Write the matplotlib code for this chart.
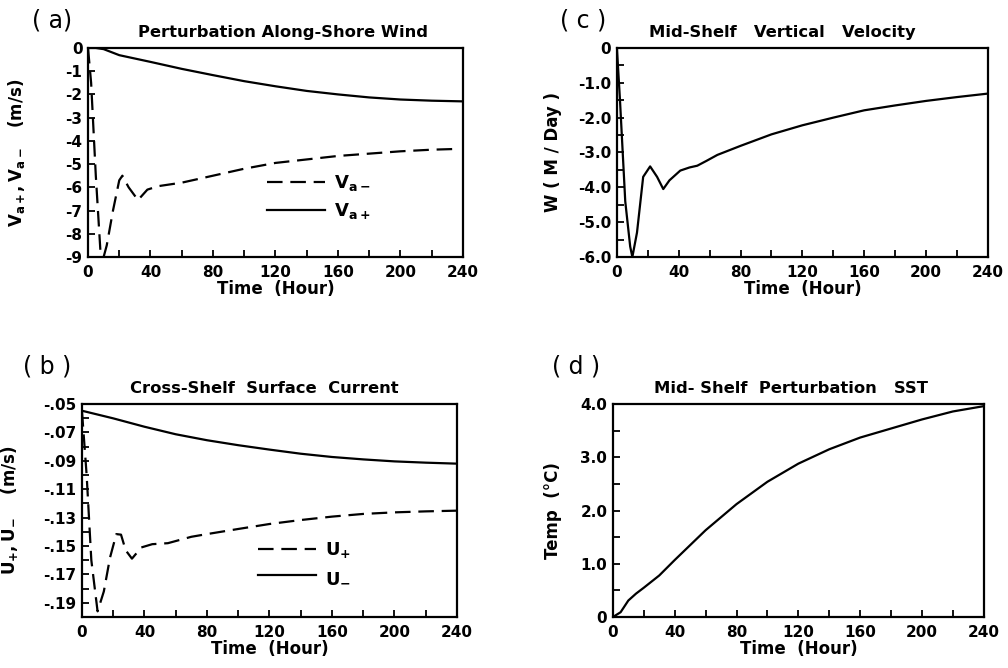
import matplotlib
matplotlib.use('Agg')
import matplotlib.pyplot as plt
from matplotlib.ticker import MultipleLocator

plt.rcParams['font.family'] = ['DejaVu Sans']
plt.rcParams['font.weight'] = 'bold'
plt.rcParams['mathtext.default'] = 'bf'
plt.rcParams['axes.unicode_minus'] = False

# (a) perturbation along-shore wind (m/s)
t_va_minus = [0, 2, 5, 8, 10, 12, 16, 20, 22, 26, 32, 38, 45, 60, 80, 100,
              120, 140, 160, 180, 200, 220, 235]
va_minus = [0, -1.5, -5.5, -8.8, -9.0, -8.5, -7.0, -5.7, -5.5, -6.0, -6.55,
            -6.1, -5.95, -5.8, -5.5, -5.2, -4.95, -4.8, -4.65, -4.55, -4.45,
            -4.38, -4.35]
t_va_plus = [0, 5, 10, 20, 40, 60, 80, 100, 120, 140, 160, 180, 200, 220, 240]
va_plus = [0, 0, -0.05, -0.31, -0.6, -0.9, -1.17, -1.43, -1.65, -1.85, -2.0,
           -2.13, -2.22, -2.27, -2.3]

# (b) cross-shelf surface current (m/s)
t_u_plus = [0, 3, 6, 10, 14, 18, 22, 25, 28, 32, 38, 45, 55, 70, 80, 100,
            120, 140, 160, 180, 200, 220, 240]
u_plus = [-0.055, -0.10, -0.16, -0.196, -0.182, -0.158, -0.1416, -0.142,
          -0.153, -0.1589, -0.151, -0.1487, -0.148, -0.1435, -0.1416, -0.138,
          -0.1345, -0.1317, -0.1293, -0.1274, -0.1263, -0.1256, -0.1251]
t_u_minus = [1, 20, 40, 60, 80, 100, 120, 140, 160, 180, 200, 220, 240]
u_minus = [-0.055, -0.0601, -0.066, -0.0713, -0.0755, -0.079, -0.0821, -0.085,
           -0.0873, -0.089, -0.0904, -0.0913, -0.092]

# (c) mid-shelf vertical velocity (m/day)
t_w = [0, 2, 5.4, 8.6, 10, 13, 17, 21.5, 26, 30, 34, 41, 47, 52, 58, 65, 80,
       100, 120, 140, 160, 180, 200, 220, 240]
w = [0, -1.5, -4.4, -5.7, -6.0, -5.3, -3.7, -3.4, -3.7, -4.05, -3.8, -3.52,
     -3.43, -3.38, -3.24, -3.07, -2.81, -2.48, -2.22, -2.0, -1.79, -1.65,
     -1.52, -1.41, -1.31]

# (d) mid-shelf perturbation SST (C)
t_sst = [0, 5, 10, 15, 20, 30, 40, 60, 80, 100, 120, 140, 160, 180, 200, 220, 240]
sst = [0, 0.09, 0.31, 0.44, 0.55, 0.78, 1.07, 1.63, 2.12, 2.54, 2.88, 3.15,
       3.37, 3.54, 3.71, 3.86, 3.96]

x_ticks = [0, 40, 80, 120, 160, 200, 240]
x_ticklabels = ['0', '40', '80', '120', '160', '200', '240']

ya_ticks = [0, -1, -2, -3, -4, -5, -6, -7, -8, -9]
ya_labels = ['0', '-1', '-2', '-3', '-4', '-5', '-6', '-7', '-8', '-9']
yb_ticks = [-0.05, -0.07, -0.09, -0.11, -0.13, -0.15, -0.17, -0.19]
yb_labels = ['-.05', '-.07', '-.09', '-.11', '-.13', '-.15', '-.17', '-.19']
yc_ticks = [0, -1, -2, -3, -4, -5, -6]
yc_labels = ['0', '-1.0', '-2.0', '-3.0', '-4.0', '-5.0', '-6.0']
yd_ticks = [0, 1, 2, 3, 4]
yd_labels = ['0', '1.0', '2.0', '3.0', '4.0']

DASH = (0, (7, 3.5))
LW = 1.6


def style(ax, ylim, yticks, ylabels, yminor, title, title_x, ylabel, ylab_x):
    ax.set_xlim(0, 240)
    ax.set_ylim(*ylim)
    ax.set_xticks(x_ticks)
    ax.set_xticklabels(x_ticklabels)
    ax.xaxis.set_minor_locator(MultipleLocator(20))
    ax.set_yticks(yticks)
    ax.set_yticklabels(ylabels)
    ax.yaxis.set_minor_locator(MultipleLocator(yminor))
    ax.tick_params(which='both', direction='in', length=5, width=1.3,
                   top=False, right=False, labelsize=11)
    ax.tick_params(axis='x', pad=6)
    ax.tick_params(axis='y', pad=4)
    for s in ax.spines.values():
        s.set_linewidth(1.6)
    ax.set_title(title, fontsize=11.8, fontweight='bold', pad=8, x=title_x)
    ax.set_xlabel('Time  (Hour)', fontsize=12, fontweight='bold', labelpad=0)
    ax.set_ylabel(ylabel, fontsize=12, fontweight='bold')
    ax.yaxis.set_label_coords(ylab_x, 0.5)


fig = plt.figure(figsize=(10.08, 6.68), dpi=100)
ax_a = fig.add_axes([0.0873, 0.6153, 0.372, 0.3129])
ax_b = fig.add_axes([0.0813, 0.0763, 0.372, 0.3189])
ax_c = fig.add_axes([0.612, 0.6153, 0.368, 0.3129])
ax_d = fig.add_axes([0.608, 0.0763, 0.368, 0.3189])

# (a)
ax_a.plot(t_va_minus, va_minus, color='black', lw=LW, linestyle=DASH,
          label=r'$V_{a-}$')
ax_a.plot(t_va_plus, va_plus, color='black', lw=LW, label=r'$V_{a+}$')
style(ax_a, (-9, 0), ya_ticks, ya_labels, 1, 'Perturbation Along-Shore Wind',
      0.52, r'$V_{a+}, V_{a-}$   (m/s)', -0.163)
ax_a.legend(loc='center left', bbox_to_anchor=(0.477, 0.287), frameon=False,
            fontsize=13, handlelength=3.2, handletextpad=0.5, borderpad=0,
            borderaxespad=0, labelspacing=0.45)

# (b)
ax_b.plot(t_u_plus, u_plus, color='black', lw=LW, linestyle=DASH,
          label=r'$U_{+}$')
ax_b.plot(t_u_minus, u_minus, color='black', lw=LW, label=r'$U_{-}$')
style(ax_b, (-0.20, -0.05), yb_ticks, yb_labels, 0.01,
      'Cross-Shelf  Surface  Current', 0.485, r'$U_{+}, U_{-}$    (m/s)', -0.165)
ax_b.legend(loc='center left', bbox_to_anchor=(0.469, 0.2535), frameon=False,
            fontsize=13, handlelength=3.2, handletextpad=0.5, borderpad=0,
            borderaxespad=0, labelspacing=0.4)

# (c)
ax_c.plot(t_w, w, color='black', lw=LW)
style(ax_c, (-6, 0), yc_ticks, yc_labels, 0.5,
      'Mid-Shelf   Vertical   Velocity', 0.445, 'W ( M / Day )', -0.148)

# (d)
ax_d.plot(t_sst, sst, color='black', lw=LW)
style(ax_d, (0, 4), yd_ticks, yd_labels, 0.5,
      'Mid- Shelf  Perturbation   SST', 0.48, 'Temp  (°C)', -0.137)

fig.text(0.032, 0.970, '( a)', fontsize=17, fontweight='normal', va='center')
fig.text(0.023, 0.451, '( b )', fontsize=17, fontweight='normal', va='center')
fig.text(0.556, 0.970, '( c )', fontsize=17, fontweight='normal', va='center')
fig.text(0.548, 0.451, '( d )', fontsize=17, fontweight='normal', va='center')

fig.savefig('out.png', dpi=100)
